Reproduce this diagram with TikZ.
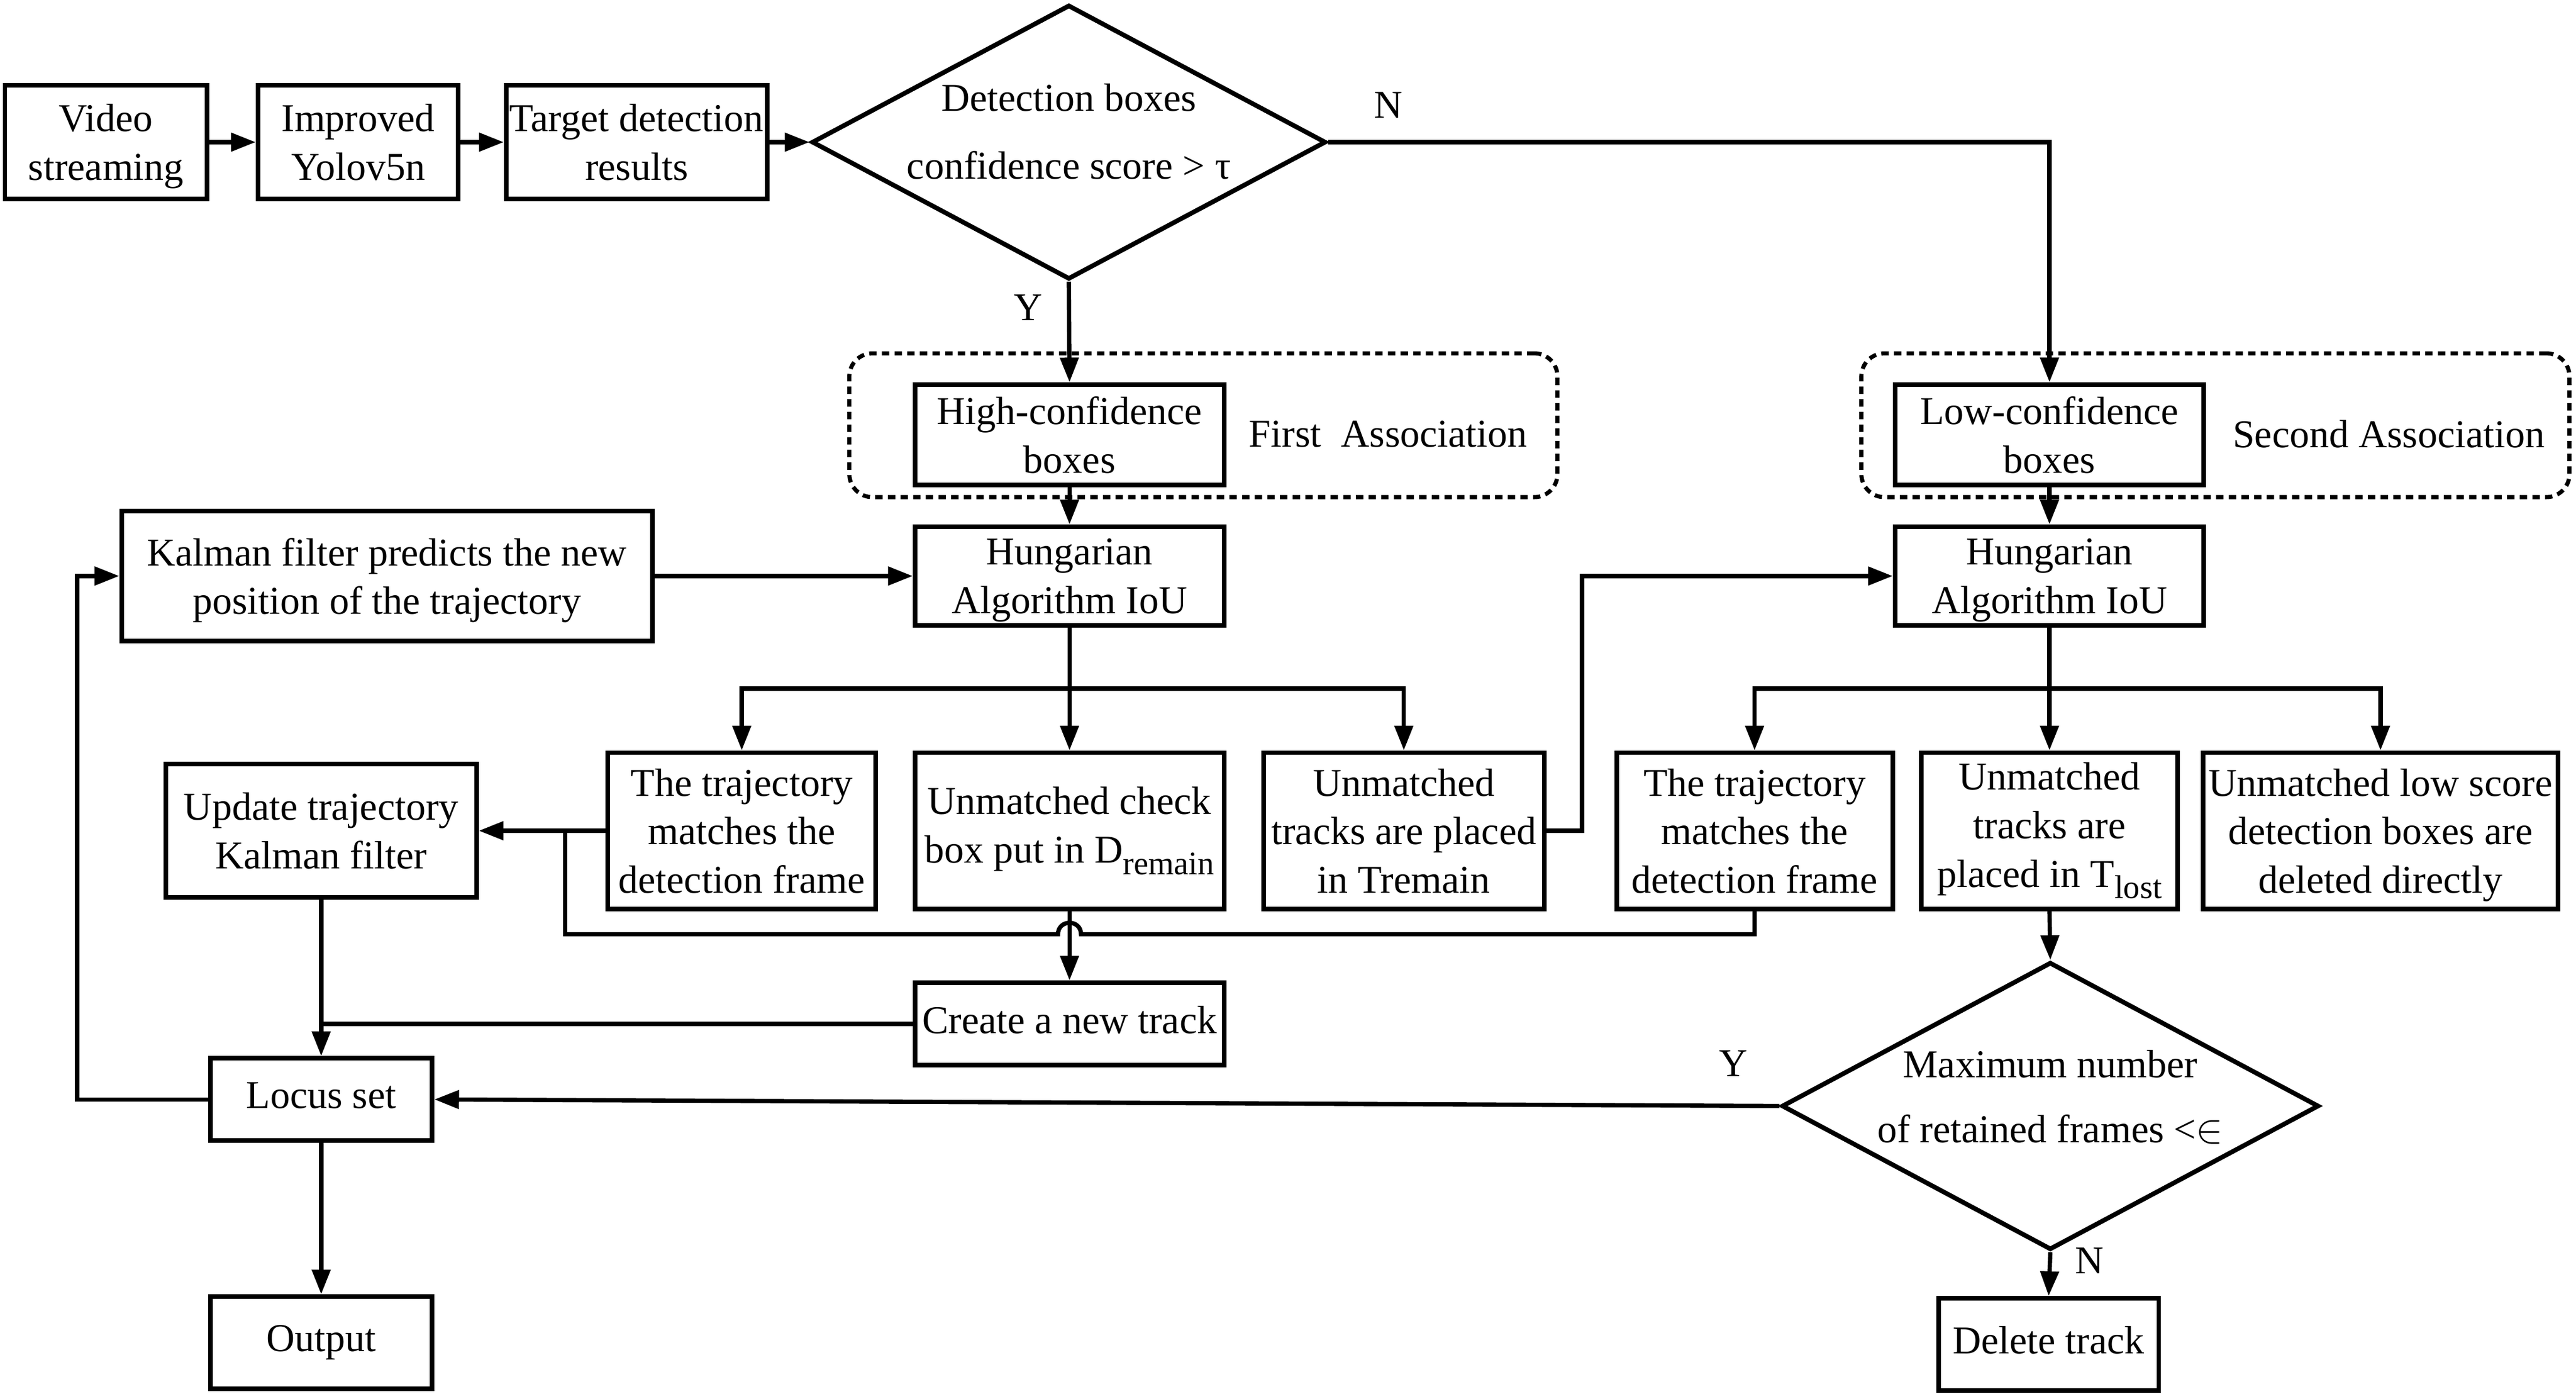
\documentclass[tikz,border=0pt]{standalone}
\usepackage{fontspec}
\setmainfont{Liberation Serif}
\usetikzlibrary{arrows.meta,shapes.geometric}
\newcommand{\lowsub}[1]{\raisebox{-7pt}{\fontsize{20}{20}\selectfont #1}}
\begin{document}
\begin{tikzpicture}[x=1pt,y=-1pt,
  every node/.style={font=\fontsize{24}{29.5}\selectfont},
  bx/.style 2 args={draw, line width=2.8pt, minimum width=#1pt, minimum height=#2pt, inner sep=0pt, align=center},
  one/.style={text depth=5pt},
  multi/.style={text depth=0pt},
  dia/.style 2 args={draw, diamond, line width=2.8pt, minimum width=#1pt, minimum height=#2pt, inner sep=0pt},
  conn/.style={line width=2.6pt},
  arr/.style={conn, -{Triangle[length=15pt,width=11pt]}},
  dotbox/.style={draw, line width=2.5pt, dash pattern=on 4.5pt off 3.2pt, rounded corners=14pt, inner sep=0pt},
  lbl/.style={inner sep=0pt, align=center}]
\useasboundingbox (0,0) rectangle (1568,848);
% groups
\node[dotbox, minimum width=431pt, minimum height=87.5pt] (grp1) at (732.5,258.75) {};
\node[dotbox, minimum width=431pt, minimum height=87.5pt] (grp2) at (1348.5,258.75) {};
% top row
\node[bx={123}{69}, multi] (video) at (64.5,86.5) {Video\\streaming};
\node[bx={122}{69}, multi] (yolo) at (218,86.5) {Improved\\Yolov5n};
\node[bx={159}{69}, multi] (target) at (387.5,86.5) {Target detection\\results};
\node[dia={313}{167}] (d1) at (650.6,86.5) {};
\node[lbl] (d1t) at (650.6,80) {Detection boxes\\[12pt]confidence score > τ};
\node[lbl] (nlab) at (845,64) {N};
\node[lbl] (ylab) at (626,187) {Y};
% associations
\node[bx={188}{61}, multi, fill=white] (high) at (651,264.5) {High-confidence\\boxes};
\node[lbl] (first) at (845,264) {First\ \ Association};
\node[bx={188}{61}, multi, fill=white] (low) at (1247.5,264.5) {Low-confidence\\boxes};
\node[lbl] (second) at (1454,264) {Second Association};
\node[bx={188}{60}, multi] (h1) at (651,350.5) {Hungarian\\Algorithm IoU};
\node[bx={188}{60}, multi] (h2) at (1247.5,350.5) {Hungarian\\Algorithm IoU};
\node[bx={323}{79}, multi] (kal) at (235.5,350.5) {Kalman filter predicts the new\\position of the trajectory};
% result row
\node[bx={163}{95}, multi] (traj1) at (451.5,505.5) {The trajectory\\matches the\\detection frame};
\node[bx={188}{95}] (drem) at (651,505.5) {Unmatched check\\box put in D\lowsub{remain}};
\node[bx={171}{95}, multi] (trem) at (854.5,505.5) {Unmatched\\tracks are placed\\in Tremain};
\node[bx={168}{95}, multi] (traj2) at (1068,505.5) {The trajectory\\matches the\\detection frame};
\node[bx={156}{95}] (tlost) at (1247.5,505.5) {Unmatched\\tracks are\\placed in T\lowsub{lost}};
\node[bx={216}{95}, multi] (lowdel) at (1449,505.5) {Unmatched low score\\detection boxes are\\deleted directly};
\node[bx={189}{81}, multi] (upd) at (195.5,505.5) {Update trajectory\\Kalman filter};
\node[bx={188}{50}, one] (create) at (651,623) {Create a new track};
\node[bx={135}{50}, one] (locus) at (195.5,669) {Locus set};
\node[bx={135}{56}] (output) at (195.5,817) {Output};
\node[dia={327}{175}] (d2) at (1248,673) {};
\node[lbl] (d2t) at (1248,667.5) {Maximum number\\[10pt]of retained frames <$\in$};
\node[lbl] (ylab2) at (1055,647) {Y};
\node[lbl] (nlab2) at (1272,767) {N};
\node[bx={134}{56}, one] (del) at (1247,818) {Delete track};
% connectors
\draw[arr] (video.east) -- (yolo.west);
\draw[arr] (yolo.east) -- (target.west);
\draw[arr] (target.east) -- (d1.west);
\draw[arr] (d1.east) -| (low.north);
\draw[arr] (d1.south) -- (high.north);
\draw[arr] (high.south) -- (h1.north);
\draw[arr] (low.south) -- (h2.north);
\draw[arr] (kal.east) -- (h1.west);
\coordinate (b1) at (651,419);
\draw[conn] (h1.south) -- (b1);
\draw[arr] (b1) -| (traj1.north);
\draw[arr] (b1) -- (drem.north);
\draw[arr] (b1) -| (trem.north);
\coordinate (b2) at (1247.5,419);
\draw[conn] (h2.south) -- (b2);
\draw[arr] (b2) -| (traj2.north);
\draw[arr] (b2) -- (tlost.north);
\draw[arr] (b2) -| (lowdel.north);
\coordinate (t1) at (963,505.5);
\draw[arr] (trem.east) -- (t1) |- (h2.west);
\draw[arr] (traj1.west) -- (upd.east);
\coordinate (j1) at (344,505.5);
\coordinate (j2) at (344,568.5);
\coordinate (bumpR) at (658,568.5);
\coordinate (bumpL) at (644,568.5);
\draw[conn] (traj2.south) |- (bumpR) .. controls (658,559.2) and (644,559.2) .. (bumpL) -- (j2) -- (j1);
\draw[arr] (drem.south) -- (create.north);
\draw[conn] (create.west) -- (create.west -| upd.south);
\draw[arr] (upd.south) -- (locus.north);
\draw[arr] (locus.south) -- (output.north);
\draw[arr] (d2.west) -- (locus.east);
\draw[arr] (tlost.south) -- (d2.north);
\draw[arr] (d2.south) -- (del.north);
\coordinate (lp) at (47,669);
\draw[arr] (locus.west) -- (lp) |- (kal.west);
\end{tikzpicture}
\end{document}
